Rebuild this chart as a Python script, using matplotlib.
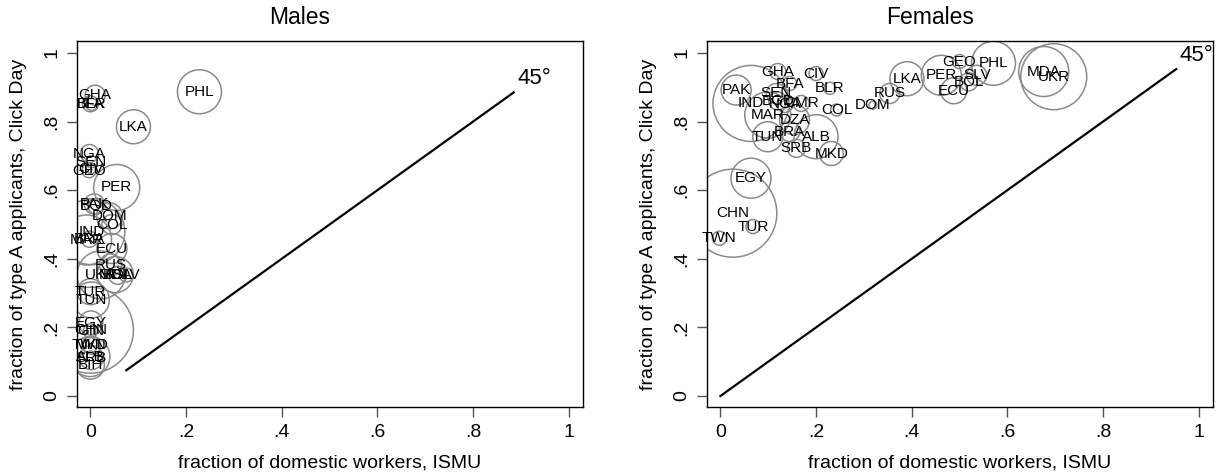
import numpy as np
import matplotlib
matplotlib.use("Agg")
import matplotlib.pyplot as plt

plt.rcParams['font.family'] = ['Liberation Sans', 'DejaVu Sans']

# Males
lab_m = ["PHL", "LKA", "GHA", "BFA", "BLR", "NGA", "SEN", "GEO", "CIV", "PER",
         "PAK", "BGD", "DOM", "COL", "IND", "MAR", "BRA", "ECU", "RUS", "UKR",
         "MDA", "BOL", "SLV", "TUR", "TUN", "EGY", "CHN", "GIN", "TWN", "MKD",
         "ALB", "SRB", "BIH"]
x_m = [0.228, 0.090, 0.010, 0.000, 0.003, -0.002, 0.002, -0.003, 0.002, 0.055,
       0.008, 0.012, 0.040, 0.045, 0.003, -0.008, -0.002, 0.045, 0.042, 0.022,
       0.052, 0.057, 0.075, 0.000, 0.002, 0.001, 0.000, 0.000, -0.002, 0.003,
       -0.001, 0.002, 0.000]
y_m = [0.887, 0.785, 0.877, 0.852, 0.850, 0.707, 0.683, 0.657, 0.663, 0.608,
       0.560, 0.553, 0.525, 0.500, 0.479, 0.455, 0.457, 0.430, 0.382, 0.353,
       0.354, 0.352, 0.353, 0.304, 0.280, 0.213, 0.192, 0.190, 0.149, 0.148,
       0.115, 0.112, 0.090]
w_m = [22, 17, 10, 8, 6, 9, 6, 7, 5, 23,
       10, 8, 13, 10, 33, 25, 8, 15, 11, 24,
       18, 9, 7, 13, 18, 12, 43, 7, 8, 9,
       20, 12, 14]

# Females
lab_f = ["GHA", "CIV", "BFA", "BLR", "PAK", "SEN", "IND", "BGD", "NGA", "CMR",
         "MAR", "DZA", "COL", "DOM", "RUS", "LKA", "PER", "ECU", "GEO", "SLV",
         "BOL", "PHL", "MDA", "UKR", "EGY", "CHN", "TUR", "TWN", "BRA", "TUN",
         "ALB", "SRB", "MKD"]
x_f = [0.120, 0.200, 0.145, 0.229, 0.033, 0.117, 0.064, 0.120, 0.135, 0.169,
       0.099, 0.155, 0.243, 0.319, 0.354, 0.390, 0.462, 0.488, 0.500, 0.536,
       0.519, 0.571, 0.676, 0.697, 0.064, 0.026, 0.068, -0.002, 0.145, 0.099,
       0.200, 0.159, 0.232]
y_f = [0.946, 0.940, 0.911, 0.897, 0.892, 0.882, 0.853, 0.860, 0.850, 0.853,
       0.819, 0.805, 0.834, 0.848, 0.882, 0.925, 0.935, 0.890, 0.975, 0.935,
       0.916, 0.970, 0.946, 0.931, 0.635, 0.533, 0.494, 0.460, 0.771, 0.756,
       0.756, 0.722, 0.707]
w_f = [8, 7, 7, 6, 15, 10, 38, 9, 8, 8,
       23, 15, 6, 4, 10, 17, 20, 13, 7, 10,
       9, 22, 25, 33, 20, 44, 7, 7, 10, 15,
       22, 9, 12]

# 45 degree line ends
line_m = [0.075, 0.885]
line_f = [0.0, 0.953]

ticks = [0, 0.2, 0.4, 0.6, 0.8, 1]
tick_lab = ["0", ".2", ".4", ".6", ".8", "1"]

W, H = 1221, 475
fig = plt.figure(figsize=(W / 100, H / 100), dpi=100)


def panel(left, x, y, w, lab, line, title):
    ax = fig.add_axes([left / W, (H - 407) / H, 506 / W, 366 / H])
    s = [(2 * r * 0.72) ** 2 for r in w]
    ax.scatter(x, y, s=s, facecolors='none', edgecolors='#8a8a8a', linewidths=1.1, zorder=2)
    for xi, yi, t in zip(x, y, lab):
        ax.text(xi, yi, t, ha='center', va='center', fontsize=11, zorder=3)
    ax.plot(line, line, color='black', lw=1.6, zorder=1)
    ax.text(line[1] + 0.008, line[1] + 0.01, "45°", fontsize=16, ha='left', va='bottom')
    ax.set_xlim(-0.028, 1.03)
    ax.set_ylim(-0.032, 1.035)
    ax.set_xticks(ticks)
    ax.set_xticklabels(tick_lab, fontsize=14)
    ax.set_yticks(ticks)
    ax.set_yticklabels(tick_lab, fontsize=14, rotation=90, va='center')
    ax.tick_params(length=7, width=1, color='#555555', pad=5)
    for sp in ax.spines.values():
        sp.set_linewidth(1)
    ax.set_xlabel("fraction of domestic workers, ISMU", fontsize=14, labelpad=10)
    ax.set_ylabel("fraction of type A applicants, Click Day", fontsize=14, labelpad=12)
    fig.text((left - 30 + 253) / W, 1 - 17 / H, title, fontsize=16.5, ha='center', va='center')
    return ax


panel(77, x_m, y_m, w_m, lab_m, line_m, "Males")
panel(707, x_f, y_f, w_f, lab_f, line_f, "Females")

fig.savefig("out.png", dpi=100)
